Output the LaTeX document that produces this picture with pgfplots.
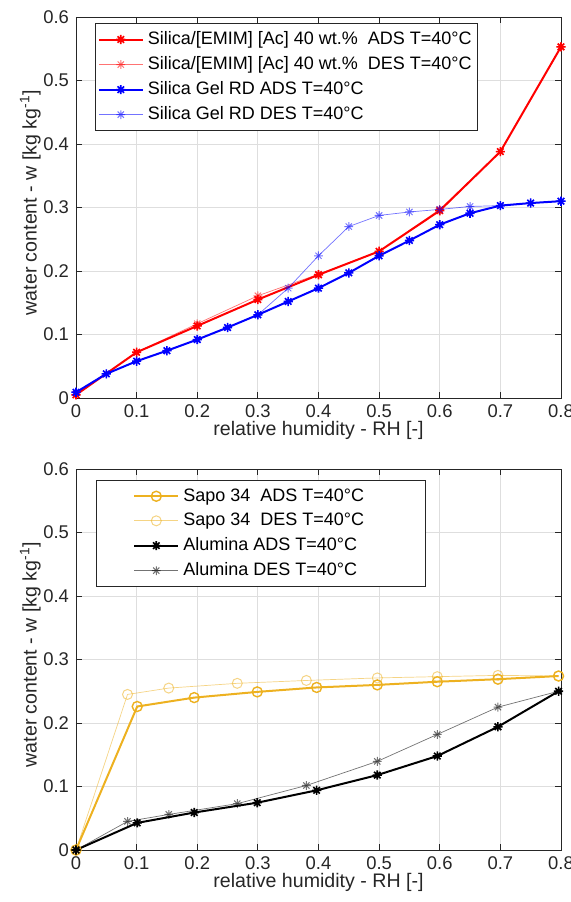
\documentclass[border=0pt]{standalone}
\usepackage{fontspec}
\setmainfont{Liberation Sans}
\usepackage{pgfplots}
\pgfplotsset{compat=1.18}
\definecolor{mred}{rgb}{1,0,0}
\definecolor{mblue}{rgb}{0,0,1}
\definecolor{morange}{rgb}{0.929,0.694,0.125}
\definecolor{axgray}{rgb}{0.15,0.15,0.15}
\pgfdeclareplotmark{mstar}{%
 \pgfpathmoveto{\pgfqpoint{\pgfplotmarksize}{0pt}}\pgfpathlineto{\pgfqpoint{-\pgfplotmarksize}{0pt}}%
 \pgfpathmoveto{\pgfqpoint{0pt}{\pgfplotmarksize}}\pgfpathlineto{\pgfqpoint{0pt}{-\pgfplotmarksize}}%
 \pgfpathmoveto{\pgfqpoint{0.7071\pgfplotmarksize}{0.7071\pgfplotmarksize}}\pgfpathlineto{\pgfqpoint{-0.7071\pgfplotmarksize}{-0.7071\pgfplotmarksize}}%
 \pgfpathmoveto{\pgfqpoint{0.7071\pgfplotmarksize}{-0.7071\pgfplotmarksize}}\pgfpathlineto{\pgfqpoint{-0.7071\pgfplotmarksize}{0.7071\pgfplotmarksize}}%
 \pgfusepathqstroke}
\pgfplotsset{
 mstyle/.style={
  scale only axis, width=242.5pt, height=190.5pt,
  xmin=0,xmax=0.8,ymin=0,ymax=0.6,
  xtick={0,0.1,0.2,0.3,0.4,0.5,0.6,0.7,0.8},
  ytick={0,0.1,0.2,0.3,0.4,0.5,0.6},
  grid=major, grid style={black!13, line width=0.4pt},
  axis line style={axgray, line width=0.4pt},
  tick style={axgray, line width=0.4pt}, tick align=inside, major tick length=3pt,
  tick label style={font=\fontsize{9.2}{10}\selectfont, text=axgray},
  label style={font=\fontsize{9.8}{11}\selectfont, text=axgray, inner sep=0pt},
  xlabel style={at={(axis description cs:0.5,-0.06)}, anchor=north},
  ylabel style={at={(axis description cs:-0.072,0.513)}, anchor=south},
  /pgf/number format/assume math mode=true,
  xlabel={relative humidity - RH [-]},
  ylabel={water content - w [kg kg\textsuperscript{-1}]},
  legend cell align=left,
  legend style={font=\fontsize{9}{10}\selectfont, draw=axgray, line width=0.4pt, anchor=north west, row sep=0.5pt},
  legend image code/.code={\draw[mark repeat=2,mark phase=2] plot coordinates {(0pt,0pt) (11pt,0pt) (22pt,0pt)};},
 },
 ads/.style={line width=1pt, mark=mstar, mark size=2.3pt, mark options={line width=0.8pt}},
 des/.style={line width=0.35pt, opacity=0.55, mark=mstar, mark size=2.2pt, mark options={line width=0.5pt}},
}
\begin{document}
\begin{tikzpicture}
\useasboundingbox (-38pt,-26pt) rectangle (247.5pt,425pt);
\begin{axis}[mstyle, at={(0pt,226pt)},
  legend style={at={(0.04,0.984)}, inner xsep=1pt}]
\addplot[ads, mred] coordinates {(0,0.005) (0.1,0.072) (0.2,0.1135) (0.3,0.155) (0.4,0.194) (0.5,0.231) (0.6,0.295) (0.7,0.388) (0.8,0.553)};
\addlegendentry{Silica/[EMIM] [Ac] 40 wt.\%\ \ ADS T=40°C}
\addplot[des, mred] coordinates {(0,0.005) (0.1,0.072) (0.2,0.117) (0.3,0.161) (0.4,0.195) (0.5,0.231) (0.6,0.297) (0.7,0.388) (0.8,0.553)};
\addlegendentry{Silica/[EMIM] [Ac] 40 wt.\%\ \ DES T=40°C}
\addplot[ads, mblue] coordinates {(0,0.009) (0.05,0.038) (0.1,0.058) (0.15,0.0745) (0.2,0.092) (0.25,0.111) (0.3,0.131) (0.35,0.152) (0.4,0.173) (0.45,0.197) (0.5,0.224) (0.55,0.248) (0.6,0.273) (0.65,0.291) (0.7,0.303) (0.75,0.307) (0.8,0.310)};
\addlegendentry{Silica Gel RD ADS T=40°C}
\addplot[des, mblue] coordinates {(0,0.009) (0.05,0.038) (0.1,0.058) (0.15,0.0745) (0.2,0.092) (0.25,0.111) (0.3,0.131) (0.35,0.173) (0.4,0.224) (0.45,0.270) (0.5,0.2875) (0.55,0.293) (0.6,0.297) (0.65,0.3016) (0.7,0.303) (0.75,0.307) (0.8,0.310)};
\addlegendentry{Silica Gel RD DES T=40°C}
\end{axis}
\begin{axis}[mstyle, at={(0pt,0pt)},
  legend style={at={(0.041,0.971)}, inner xsep=18.5pt}]
\addplot[line width=1pt, morange, mark=o, mark size=2.5pt, mark options={line width=0.7pt}] coordinates {(0,0) (0.101,0.226) (0.195,0.240) (0.299,0.249) (0.397,0.256) (0.497,0.260) (0.596,0.265) (0.696,0.269) (0.796,0.274)};
\addlegendentry{Sapo 34\ \ ADS T=40°C}
\addplot[line width=0.35pt, morange, opacity=0.55, mark=o, mark size=2.5pt, mark options={line width=0.5pt}] coordinates {(0,0) (0.085,0.245) (0.153,0.255) (0.266,0.2625) (0.380,0.267) (0.497,0.271) (0.596,0.273) (0.696,0.275) (0.796,0.274)};
\addlegendentry{Sapo 34\ \ DES T=40°C\hspace*{10pt}}
\addplot[ads, black] coordinates {(0,0) (0.101,0.0427) (0.195,0.059) (0.299,0.0745) (0.397,0.094) (0.497,0.118) (0.596,0.148) (0.696,0.194) (0.796,0.250)};
\addlegendentry{Alumina ADS T=40°C}
\addplot[des, black] coordinates {(0,0) (0.085,0.045) (0.153,0.056) (0.266,0.073) (0.380,0.1016) (0.497,0.1396) (0.596,0.182) (0.696,0.225) (0.796,0.250)};
\addlegendentry{Alumina DES T=40°C}
\end{axis}
\end{tikzpicture}
\end{document}
